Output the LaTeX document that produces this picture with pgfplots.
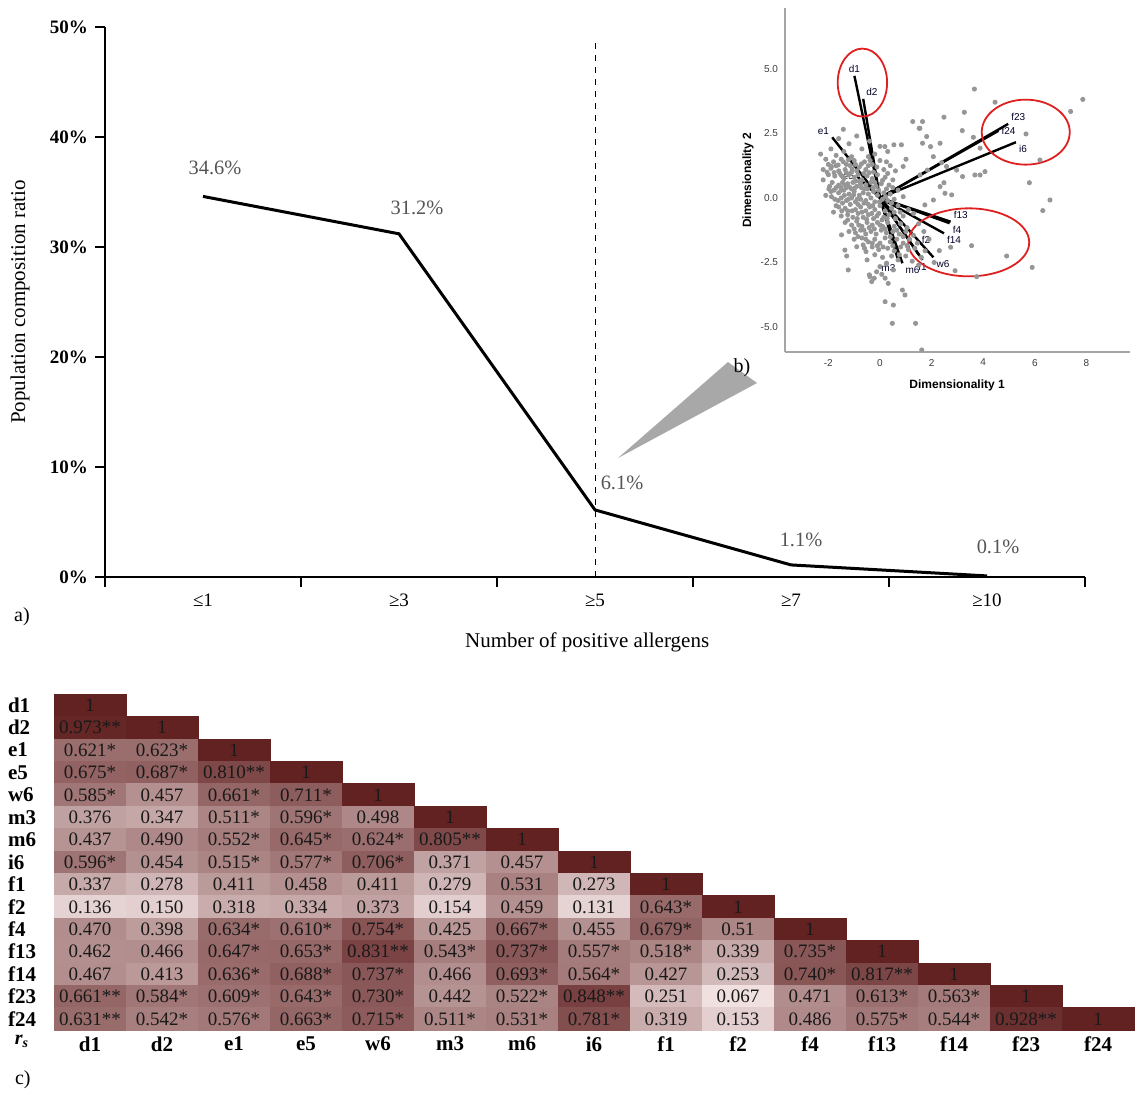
\documentclass[border=0pt]{standalone}
\usepackage{fontspec}
\setmainfont{Liberation Serif}
\newfontfamily\sansf{Liberation Sans}
\usepackage{pgfplots}
\usepackage{pgfplotstable}
\pgfplotsset{compat=1.18}
\definecolor{dotgrey}{RGB}{150,150,150}
\definecolor{lblgrey}{RGB}{85,85,85}
\definecolor{ringred}{RGB}{222,32,32}
\definecolor{axgrey}{RGB}{165,165,165}
\definecolor{ticktext}{RGB}{60,60,60}
\definecolor{wedge}{RGB}{168,168,168}
\tikzset{
  vec/.style={black, line width=1.2pt},
  vlab/.style={font=\sansf\fontsize{5}{6}\selectfont, text=black!85!blue, inner sep=1pt},
}

% panel a: share of patients by number of positive allergens
\pgfplotstableread{
x y dx dy lab
1 34.6 6 14.5 34.6\%
2 31.2 9 13 31.2\%
3 6.1 13.5 13.5 6.1\%
4 1.1 5 12.5 1.1\%
5 0.1 5.5 14.5 0.1\%
}\ratio

% panel c: Spearman correlations (lower triangle), x = column, y = row
\pgfplotstableread{
x y v lab
0 0 1 1
0 1 0.973 0.973**
1 1 1 1
0 2 0.621 0.621*
1 2 0.623 0.623*
2 2 1 1
0 3 0.675 0.675*
1 3 0.687 0.687*
2 3 0.810 0.810**
3 3 1 1
0 4 0.585 0.585*
1 4 0.457 0.457
2 4 0.661 0.661*
3 4 0.711 0.711*
4 4 1 1
0 5 0.376 0.376
1 5 0.347 0.347
2 5 0.511 0.511*
3 5 0.596 0.596*
4 5 0.498 0.498
5 5 1 1
0 6 0.437 0.437
1 6 0.490 0.490
2 6 0.552 0.552*
3 6 0.645 0.645*
4 6 0.624 0.624*
5 6 0.805 0.805**
6 6 1 1
0 7 0.596 0.596*
1 7 0.454 0.454
2 7 0.515 0.515*
3 7 0.577 0.577*
4 7 0.706 0.706*
5 7 0.371 0.371
6 7 0.457 0.457
7 7 1 1
0 8 0.337 0.337
1 8 0.278 0.278
2 8 0.411 0.411
3 8 0.458 0.458
4 8 0.411 0.411
5 8 0.279 0.279
6 8 0.531 0.531
7 8 0.273 0.273
8 8 1 1
0 9 0.136 0.136
1 9 0.150 0.150
2 9 0.318 0.318
3 9 0.334 0.334
4 9 0.373 0.373
5 9 0.154 0.154
6 9 0.459 0.459
7 9 0.131 0.131
8 9 0.643 0.643*
9 9 1 1
0 10 0.470 0.470
1 10 0.398 0.398
2 10 0.634 0.634*
3 10 0.610 0.610*
4 10 0.754 0.754*
5 10 0.425 0.425
6 10 0.667 0.667*
7 10 0.455 0.455
8 10 0.679 0.679*
9 10 0.51 0.51
10 10 1 1
0 11 0.462 0.462
1 11 0.466 0.466
2 11 0.647 0.647*
3 11 0.653 0.653*
4 11 0.831 0.831**
5 11 0.543 0.543*
6 11 0.737 0.737*
7 11 0.557 0.557*
8 11 0.518 0.518*
9 11 0.339 0.339
10 11 0.735 0.735*
11 11 1 1
0 12 0.467 0.467
1 12 0.413 0.413
2 12 0.636 0.636*
3 12 0.688 0.688*
4 12 0.737 0.737*
5 12 0.466 0.466
6 12 0.693 0.693*
7 12 0.564 0.564*
8 12 0.427 0.427
9 12 0.253 0.253
10 12 0.740 0.740*
11 12 0.817 0.817**
12 12 1 1
0 13 0.661 0.661**
1 13 0.584 0.584*
2 13 0.609 0.609*
3 13 0.643 0.643*
4 13 0.730 0.730*
5 13 0.442 0.442
6 13 0.522 0.522*
7 13 0.848 0.848**
8 13 0.251 0.251
9 13 0.067 0.067
10 13 0.471 0.471
11 13 0.613 0.613*
12 13 0.563 0.563*
13 13 1 1
0 14 0.631 0.631**
1 14 0.542 0.542*
2 14 0.576 0.576*
3 14 0.663 0.663*
4 14 0.715 0.715*
5 14 0.511 0.511*
6 14 0.531 0.531*
7 14 0.781 0.781*
8 14 0.319 0.319
9 14 0.153 0.153
10 14 0.486 0.486
11 14 0.575 0.575*
12 14 0.544 0.544*
13 14 0.928 0.928**
14 14 1 1
}\corr

\begin{document}
\begin{tikzpicture}
\useasboundingbox (0,0) rectangle (570pt,-547pt);

% ---------- a) line chart ----------
\begin{axis}[
  at={(52.5pt,-288.5pt)}, anchor=south west,
  scale only axis, width=490pt, height=275pt,
  xmin=0.5, xmax=5.5, ymin=0, ymax=50,
  axis lines*=left, axis line style={line width=0.8pt},
  xtick={0.5,1.5,2.5,3.5,4.5,5.5}, x tick label as interval,
  xticklabels={≤1,≥3,≥5,≥7,≥10},
  ytick={0,10,20,30,40,50},
  yticklabels={\textbf{0\%},\textbf{10\%},\textbf{20\%},\textbf{30\%},\textbf{40\%},\textbf{50\%}},
  tick align=outside, major tick length=5pt,
  tick style={black, line width=0.8pt},
  tick label style={font=\fontsize{9.5}{11}\selectfont},
  xlabel={Number of positive allergens},
  ylabel={Population composition ratio},
  every axis x label/.style={at={(axis description cs:0.492,-0.118)}, anchor=center,
    font=\fontsize{10.5}{12}\selectfont},
  every axis y label/.style={at={(axis description cs:-0.0867,0.5)}, rotate=90, anchor=center,
    font=\fontsize{10.5}{12}\selectfont},
  clip=false,
]
\addplot[black, dashed, line width=0.5pt] coordinates {(3,0) (3,48.8)};
\addplot[black, line width=1.5pt, mark=none,
  nodes near coords, point meta=explicit symbolic,
  visualization depends on={\thisrow{dx} \as \ldx},
  visualization depends on={\thisrow{dy} \as \ldy},
  every node near coord/.append style={anchor=center, xshift=\ldx pt, yshift=\ldy pt,
    font=\fontsize{10.2}{12}\selectfont, text=lblgrey}]
  table[x=x, y=y, meta=lab] {\ratio};
\end{axis}
\node[font=\fontsize{10}{11}\selectfont] at (11pt,-308.5pt) {a)};

% callout wedge and b) label
\fill[wedge] (309pt,-229pt) -- (364pt,-181pt) -- (378.5pt,-191.5pt) -- cycle;
\node[font=\fontsize{10}{11}\selectfont] at (371pt,-184pt) {b)};

% ---------- b) biplot inset ----------
\begin{axis}[
  at={(392.5pt,-176pt)}, anchor=south west,
  scale only axis, width=172.5pt, height=172pt,
  xmin=-3.68, xmax=9.69, ymin=-5.97, ymax=7.36,
  axis lines*=left, axis line style={draw=axgrey, line width=0.6pt},
  major tick length=0pt,
  xtick={-2,0,2,4,6,8}, xticklabels={-2,0,2,4,6,8},
  ytick={-5,-2.5,0,2.5,5}, yticklabels={-5.0,-2.5,0.0,2.5,5.0},
  tick label style={font=\sansf\fontsize{5}{6}\selectfont, text=ticktext},
  xlabel={Dimensionality 1}, ylabel={Dimensionality 2},
  every axis x label/.style={at={(axis description cs:0.499,-0.096)}, anchor=center,
    font=\sansf\bfseries\fontsize{6}{7}\selectfont},
  every axis y label/.style={at={(axis description cs:-0.107,0.5)}, rotate=90, anchor=center,
    font=\sansf\bfseries\fontsize{6}{7}\selectfont},
]
\addplot[only marks, mark=*, mark size=1.05pt, dotgrey, mark options={draw=dotgrey, fill=dotgrey}] coordinates {
(3.66,4.22) (7.86,3.82) (7.39,3.35) (4.46,3.71) (2.48,3.13) (1.27,2.96) (1.55,2.70) (3.19,2.61)
(3.62,2.35) (5.66,2.48) (6.20,1.47) (5.79,0.59) (6.59,-0.08) (6.31,-0.49) (3.55,-1.85) (4.91,-2.25)
(5.90,-2.69) (3.75,-3.05) (2.91,-2.82) (2.74,-1.91) (2.30,-2.04) (3.68,0.89) (3.88,0.89) (4.07,1.02)
(3.20,0.83) (2.78,0.12) (2.48,0.59) (2.33,2.12) (1.96,1.99) (1.81,2.38) (1.65,2.12) (1.01,1.50)
(0.90,1.22) (0.54,2.06) (0.19,1.99) (0.83,2.06) (2.07,1.60) (2.39,1.37) (2.58,1.22) (2.97,1.08)
(1.84,1.08) (1.55,0.89) (2.33,0.44) (2.52,0.18) (2.07,-0.08) (1.74,-0.27) (-1.29,-2.25) (-1.23,-2.79)
(-0.39,-3.05) (0.20,-3.11) (0.52,-2.79) (0.87,-3.57) (0.97,-3.76) (0.20,-4.02) (0.52,-4.15) (0.48,-4.86)
(1.38,-4.86) (1.62,-5.89) (-1.49,-1.43) (-1.42,2.66) (0.00,-2.66) (0.26,-2.53) (-0.13,-2.86) (-0.54,-2.08)
(-0.90,-1.89) (3.27,3.32) (3.88,1.93) (1.65,2.96) (1.52,2.70) (-0.41,-2.98) (-0.22,-3.11) (0.07,-2.96)
(-0.32,-3.24) (0.32,-3.31) (-1.36,-2.02) (-0.65,-1.82)
(-1.6,2.3) (-1.2,2.1) (-0.9,2.4) (-0.4,2.2) (-1.9,1.9) (-1.4,1.8) (-0.7,1.9) (-0.2,1.7) (0.3,1.8)
(-1.1,1.6) (-1.7,1.65) (-2.3,1.7) (-0.45,1.6) (0.0,2.0)
(-2.1,1.5) (-1.8,1.4) (-1.5,1.5) (-1.3,1.3) (-1.0,1.45) (-0.8,1.2) (-0.6,1.4) (-0.3,1.3) (0.0,1.45)
(0.4,1.25) (-2.2,1.1) (-1.9,1.15) (-1.6,1.05) (-1.35,1.1) (-1.1,1.0) (-0.9,1.05) (-0.55,1.1)
(-0.25,1.0) (0.15,1.1) (0.6,1.05) (-2.0,1.3) (-1.15,1.25) (-0.45,1.25) (-1.7,1.25)
(-2.0,0.9) (-1.75,0.85) (-1.55,0.95) (-1.4,0.75) (-1.2,0.9) (-1.0,0.8) (-0.85,0.9) (-0.7,0.7)
(-0.5,0.85) (-0.3,0.75) (-0.1,0.9) (0.2,0.8) (0.5,0.7) (-1.85,0.6) (-1.6,0.5) (-1.45,0.6)
(-1.25,0.55) (-1.05,0.6) (-0.9,0.45) (-0.75,0.55) (-0.55,0.5) (-0.35,0.6) (-0.15,0.45) (0.05,0.55)
(0.35,0.5) (-1.7,0.4) (-1.3,0.4) (-1.1,0.35) (-0.6,0.35) (-2.2,0.7) (-1.95,0.45) (-1.5,0.3) (-0.8,0.65)
(-1.9,0.25) (-1.6,0.2) (-1.4,0.3) (-1.2,0.15) (-1.0,0.25) (-0.8,0.1) (-0.65,0.2) (-0.45,0.15)
(-0.25,0.25) (-0.1,0.1) (0.15,0.2) (0.4,0.15) (0.7,0.3) (-1.75,-0.05) (-1.5,0.0) (-1.3,-0.1)
(-1.1,0.0) (-0.95,-0.15) (-0.75,-0.05) (-0.55,-0.1) (-0.35,0.0) (-0.2,-0.15) (0.1,-0.05) (0.3,-0.1)
(0.55,-0.05) (0.9,0.05) (-1.45,-0.2) (-0.85,-0.25) (-2.1,0.1) (-1.15,-0.25)
(-1.6,-0.35) (-1.35,-0.4) (-0.95,-0.45) (-0.75,-0.35) (-0.55,-0.5) (-0.4,-0.35) (-0.2,-0.45)
(0.0,-0.3) (0.2,-0.5) (0.45,-0.4) (0.7,-0.3) (1.1,-0.45) (-1.5,-0.7) (-1.25,-0.65) (-1.05,-0.75)
(-0.85,-0.6) (-0.65,-0.75) (-0.45,-0.65) (-0.25,-0.8) (-0.05,-0.6) (0.15,-0.75) (0.35,-0.65)
(0.6,-0.8) (0.9,-0.7) (1.3,-0.6) (-1.8,-0.55)
(-1.35,-0.95) (-1.1,-1.05) (-0.9,-0.9) (-0.7,-1.1) (-0.5,-0.95) (-0.3,-1.05) (-0.1,-0.95) (0.1,-1.1)
(0.3,-0.95) (0.55,-1.1) (0.8,-1.0) (1.05,-1.15) (1.5,-1.0) (-1.2,-1.3) (-0.95,-1.35) (-0.75,-1.25)
(-0.55,-1.4) (-0.35,-1.3) (-0.15,-1.4) (0.05,-1.25) (0.25,-1.35) (0.5,-1.3) (0.75,-1.4) (1.0,-1.3)
(1.3,-1.45) (1.7,-1.3)
(-1.0,-1.6) (-0.7,-1.55) (-0.45,-1.7) (-0.2,-1.6) (0.0,-1.75) (0.2,-1.55) (0.4,-1.7) (0.65,-1.6)
(0.9,-1.75) (1.15,-1.6) (1.45,-1.75) (1.9,-1.6) (-0.6,-1.95) (-0.3,-1.9) (-0.05,-2.0) (0.3,-1.95)
(0.55,-2.05) (0.8,-1.9) (1.1,-2.0) (1.35,-1.95) (1.75,-2.05)
(-0.2,-2.2) (0.1,-2.3) (0.45,-2.25) (0.7,-2.4) (1.0,-2.25) (1.25,-2.45) (1.6,-2.3) (-0.5,-2.4)
(0.25,-2.55) (1.5,-2.6) (2.1,-2.5)
(-1.88,1.22) (-1.62,1.28) (-1.42,1.4) (-1.22,1.48) (-0.95,1.3) (-0.72,1.32) (-0.38,1.45) (-0.12,1.2)
(0.25,1.4) (-2.05,1.0) (-1.78,0.98) (-1.48,0.85) (-1.3,0.98) (-1.08,1.12) (-0.95,0.65) (-0.62,0.95)
(-0.42,0.98) (-0.2,0.6) (0.1,0.68) (0.3,0.95) (-1.98,0.35) (-1.78,0.3) (-1.52,0.42) (-1.35,0.5)
(-1.18,0.42) (-0.98,0.38) (-0.72,0.4) (-0.48,0.35) (-0.28,0.4) (-0.05,0.3) (0.25,0.35) (0.5,0.4)
(-1.88,0.05) (-1.62,-0.1) (-1.38,0.1) (-1.22,-0.05) (-1.02,0.12) (-0.88,-0.05) (-0.62,-0.2)
(-0.45,-0.25) (-0.28,-0.3) (-0.02,-0.15) (0.22,0.05) (0.45,-0.2) (-1.7,-0.3) (-1.48,-0.5)
(-1.25,-0.5) (-1.08,-0.5) (-0.88,-0.8) (-0.7,-0.55) (-0.52,-0.82) (-0.32,-0.6) (-0.12,-0.7)
(0.08,-0.85) (0.28,-0.8) (0.55,-0.55) (0.78,-0.55) (-1.25,-0.85) (-1.0,-1.2) (-0.82,-1.05)
(-0.62,-1.25) (-0.42,-1.15) (-0.22,-1.2) (0.0,-1.05) (0.2,-1.2) (0.4,-1.5) (0.65,-1.25) (0.9,-1.5)
(-0.85,-1.5) (-0.55,-1.6) (-0.3,-1.75) (-0.1,-1.85) (0.12,-1.9) (0.5,-1.85) (0.75,-2.2) (1.05,-1.85)
};
% loading vectors
\addplot[vec] coordinates {(0,0) (-0.99,4.73)} node[vlab, pos=1, anchor=south] {d1};
\addplot[vec] coordinates {(0,0) (-0.65,3.84)} node[vlab, pos=1, anchor=south west] {d2};
\addplot[vec] coordinates {(0,0) (-1.85,2.35)} node[vlab, pos=1, anchor=south east] {e1};
\addplot[vec] coordinates {(0,0) (-0.88,0.83)} node[vlab, pos=1, anchor=east] {e5};
\addplot[vec] coordinates {(0,0) (4.97,2.87)} node[vlab, pos=1, anchor=south west] {f23};
\addplot[vec] coordinates {(0,0) (4.59,2.60)} node[vlab, pos=1, anchor=west] {f24};
\addplot[vec] coordinates {(0,0) (5.27,2.16)} node[vlab, pos=1, anchor=north west] {i6};
\addplot[vec] coordinates {(0,0) (2.74,-0.92)} node[vlab, pos=1, anchor=south west] {f13};
\addplot[vec] coordinates {(0,0) (2.70,-0.98)} node[vlab, pos=1, anchor=north west] {f4};
\addplot[vec] coordinates {(0,0) (2.48,-1.37)} node[vlab, pos=1, anchor=north west] {f14};
\addplot[vec] coordinates {(0,0) (1.50,-2.20)} node[vlab, pos=1, anchor=south west, yshift=4pt] {f2};
\addplot[vec] coordinates {(0,0) (2.07,-2.30)} node[vlab, pos=1, anchor=north west] {w6};
\addplot[vec] coordinates {(0,0) (1.65,-2.40)} node[vlab, pos=1, anchor=north] {f1};
\addplot[vec] coordinates {(0,0) (0.72,-2.47)} node[vlab, pos=1, anchor=north east] {m3};
\addplot[vec] coordinates {(0,0) (0.87,-2.53)} node[vlab, pos=1, anchor=north west] {m6};
% clusters
\draw[ringred, line width=0.9pt] (axis cs:-0.68,4.47) ellipse [x radius=12.35pt, y radius=17pt];
\draw[ringred, line width=0.9pt] (axis cs:5.65,2.55) ellipse [x radius=22pt, y radius=16.25pt];
\draw[ringred, line width=0.9pt] (axis cs:3.44,-1.72) ellipse [x radius=30.25pt, y radius=17pt];
\end{axis}

% ---------- c) correlation heat map ----------
\begin{axis}[
  at={(27pt,-515pt)}, anchor=south west,
  scale only axis, width=540pt, height=168pt,
  xmin=-0.5, xmax=14.5, ymin=-0.5, ymax=14.5, y dir=reverse,
  axis line style={draw=none}, major tick length=0pt,
  xtick={0,...,14}, ytick={0,...,14},
  xticklabels={d1,d2,e1,e5,w6,m3,m6,i6,f1,f2,f4,f13,f14,f23,f24},
  yticklabels={d1,d2,e1,e5,w6,m3,m6,i6,f1,f2,f4,f13,f14,f23,f24},
  tick label style={font=\bfseries\fontsize{10.5}{11}\selectfont},
  yticklabel style={anchor=west, xshift=-26.5pt},
  colormap={heat}{rgb255=(250,238,238) rgb255=(98,34,34)},
  point meta min=0, point meta max=1,
  clip=false,
]
\addplot[scatter, only marks, mark=square*, mark size=5.6pt,
  mark options={xscale=3.2143, line width=0.3pt},
  point meta=explicit,
  scatter/use mapped color={draw=mapped color, fill=mapped color}]
  table[x=x, y=y, meta=v] {\corr};
\addplot[draw=none, mark=none, nodes near coords, point meta=explicit symbolic,
  every node near coord/.append style={anchor=center, text=black!90,
    font=\fontsize{9.5}{10}\selectfont}]
  table[x=x, y=y, meta=lab] {\corr};
\end{axis}
\node[font=\bfseries\fontsize{10}{11}\selectfont] at (11pt,-520.5pt) {\textit{r}\textsubscript{\textit{s}}};
\node[font=\fontsize{10}{11}\selectfont, anchor=west] at (4pt,-540pt) {c)};
\end{tikzpicture}
\end{document}
